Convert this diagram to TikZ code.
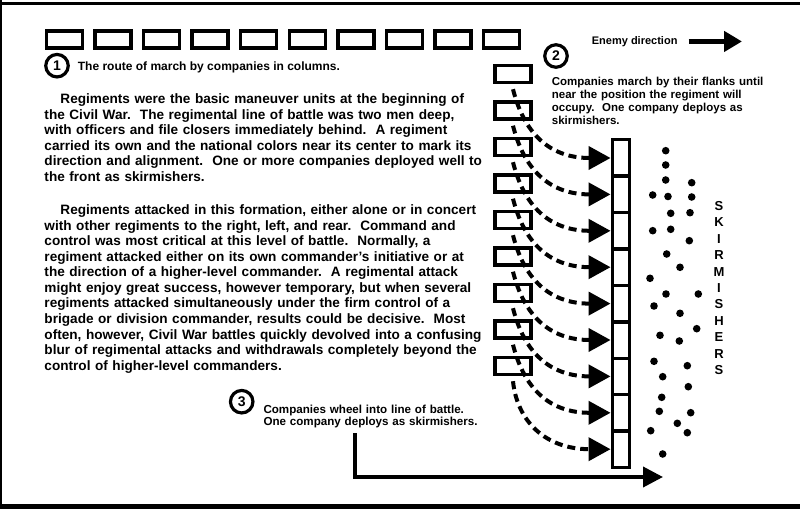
\documentclass[tikz,border=0pt]{standalone}
\usepackage{fontspec}
\setmainfont{Liberation Sans}
\usetikzlibrary{arrows.meta}
\begin{document}
\begin{tikzpicture}[x=1bp,y=-1bp,
  ink/.style={black!92},
  box/.style={draw, line width=3.4bp, minimum width=36bp, minimum height=17bp, inner sep=0pt},
  cell/.style={draw, line width=3.4bp, minimum width=17.5bp, minimum height=36.4bp, inner sep=0pt},
  num/.style={draw, circle, line width=3.2bp, minimum size=22.5bp, inner sep=0pt, font=\bfseries\fontsize{14bp}{14bp}\selectfont},
  march/.style={line width=4bp, dash pattern=on 8bp off 5bp, -{Triangle[length=22bp,width=23bp]}},
  solidarrow/.style={line width=3.8bp, -{Triangle[length=20bp,width=20bp]}},
  txt/.style={anchor=base west, inner sep=0pt, align=left},
]
\useasboundingbox (0,0) rectangle (800,509);
% frame
\draw[line width=3bp] (0,3.8) -- (800,3.8);
\draw[line width=2bp] (1,0) -- (1,509);
\draw[line width=4.5bp] (0,506.5) -- (800,506.5);

% route of march (top row)
\foreach \i in {0,...,9}
  \node[box] (r\i) at ({64.5+48.56*\i},39.7) {};
% companies marching by flanks
\foreach \i in {1,...,9}
  \node[box] (b\i) at (513,{74+36.5*(\i-1)}) {};
% line of battle
\foreach \i in {1,...,9}
  \node[cell] (c\i) at (621,{158+36.4*(\i-1)}) {};

% wheeling paths
\foreach \i in {1,...,8}
  \draw[march] ([yshift=-5bp]b\i.south) .. controls +(8,32) and +(-70,0) .. (c\i.west);
\draw[march] ([yshift=-5bp]b9.south) .. controls +(4,40) and +(-65,0) .. (c9.west);

% numbered circles
\node[num] (n1) at (57,65.7) {1};
\node[num] (n2) at (556,56) {2};
\node[num] (n3) at (241.7,401.7) {3};

% captions
\node[txt, font=\bfseries\fontsize{12bp}{14bp}\selectfont] (t1) at (77.7,70.8)
  {The route of march by companies in columns.};
\node[txt, text width=250bp, font=\bfseries\fontsize{11.5bp}{13bp}\selectfont] (t2) at (551.7,86)
  {Companies march by their flanks until\\
   near the position the regiment will\\
   occupy.\ \ One company deploys as\\
   skirmishers.};
\node[txt, text width=250bp, font=\bfseries\fontsize{11.6bp}{12bp}\selectfont] (t3) at (263.3,413.3)
  {Companies wheel into line of battle.\\
   One company deploys as skirmishers.};

% enemy direction
\node[txt, font=\bfseries\fontsize{11bp}{13bp}\selectfont] (enemy) at (591.7,44.3) {Enemy direction};
\coordinate (etip) at (742,41.7);
\draw[line width=4.5bp, -{Triangle[length=18bp,width=20bp]}] ([xshift=11bp]enemy.east) -- (etip |- enemy.east);

% paragraphs
\node[txt, text width=480bp, font=\bfseries\fontsize{13.6bp}{15.5bp}\selectfont] (p1) at (44.3,104)
  {\hspace*{16bp}Regiments were the basic maneuver units at the beginning of\\
   the Civil War.\ \ The regimental line of battle was two men deep,\\
   with officers and file closers immediately behind.\ \ A regiment\\
   carried its own and the national colors near its center to mark its\\
   direction and alignment.\ \ One or more companies deployed well to\\
   the front as skirmishers.};
\node[txt, text width=480bp, font=\bfseries\fontsize{13.6bp}{15.5bp}\selectfont] (p2) at (44.3,215)
  {\hspace*{16bp}Regiments attacked in this formation, either alone or in concert\\
   with other regiments to the right, left, and rear.\ \ Command and\\
   control was most critical at this level of battle.\ \ Normally, a\\
   regiment attacked either on its own commander's initiative or at\\
   the direction of a higher-level commander.\ \ A regimental attack\\
   might enjoy great success, however temporary, but when several\\
   regiments attacked simultaneously under the firm control of a\\
   brigade or division commander, results could be decisive.\ \ Most\\
   often, however, Civil War battles quickly devolved into a confusing\\
   blur of regimental attacks and withdrawals completely beyond the\\
   control of higher-level commanders.};

% skirmishers label
\node[align=center, inner sep=0pt, font=\bfseries\fontsize{13bp}{16.4bp}\selectfont] (sk) at (719,288)
  {S\\K\\I\\R\\M\\I\\S\\H\\E\\R\\S};

% skirmisher dots
\foreach \x/\y in {665.7/150.7, 665.7/165, 665.7/180, 691.7/182.7, 652.7/195, 668/196.5,
  691.7/197, 670.7/213.3, 690/212.7, 652.7/230.7, 670.7/229.3, 689.3/240.7, 666.7/254,
  680/267.3, 650/278.3, 666/294, 698.3/294, 654/306, 680/313.3, 696.7/328.7, 660/335.3,
  679.3/341, 654/361.3, 687.3/365.7, 662.7/376.7, 688.3/386.7, 661.7/397.3, 659.3/411.3,
  690.7/412.7, 677.3/423.3, 687.3/432.7, 650.7/430.7, 662.7/454}
  \fill (\x,\y) circle (3.8bp);

% wheel arrow
\coordinate (w0) at (355,433);
\coordinate (w1) at (663,477);
\draw[solidarrow] (w0) |- (w1);
\end{tikzpicture}
\end{document}
